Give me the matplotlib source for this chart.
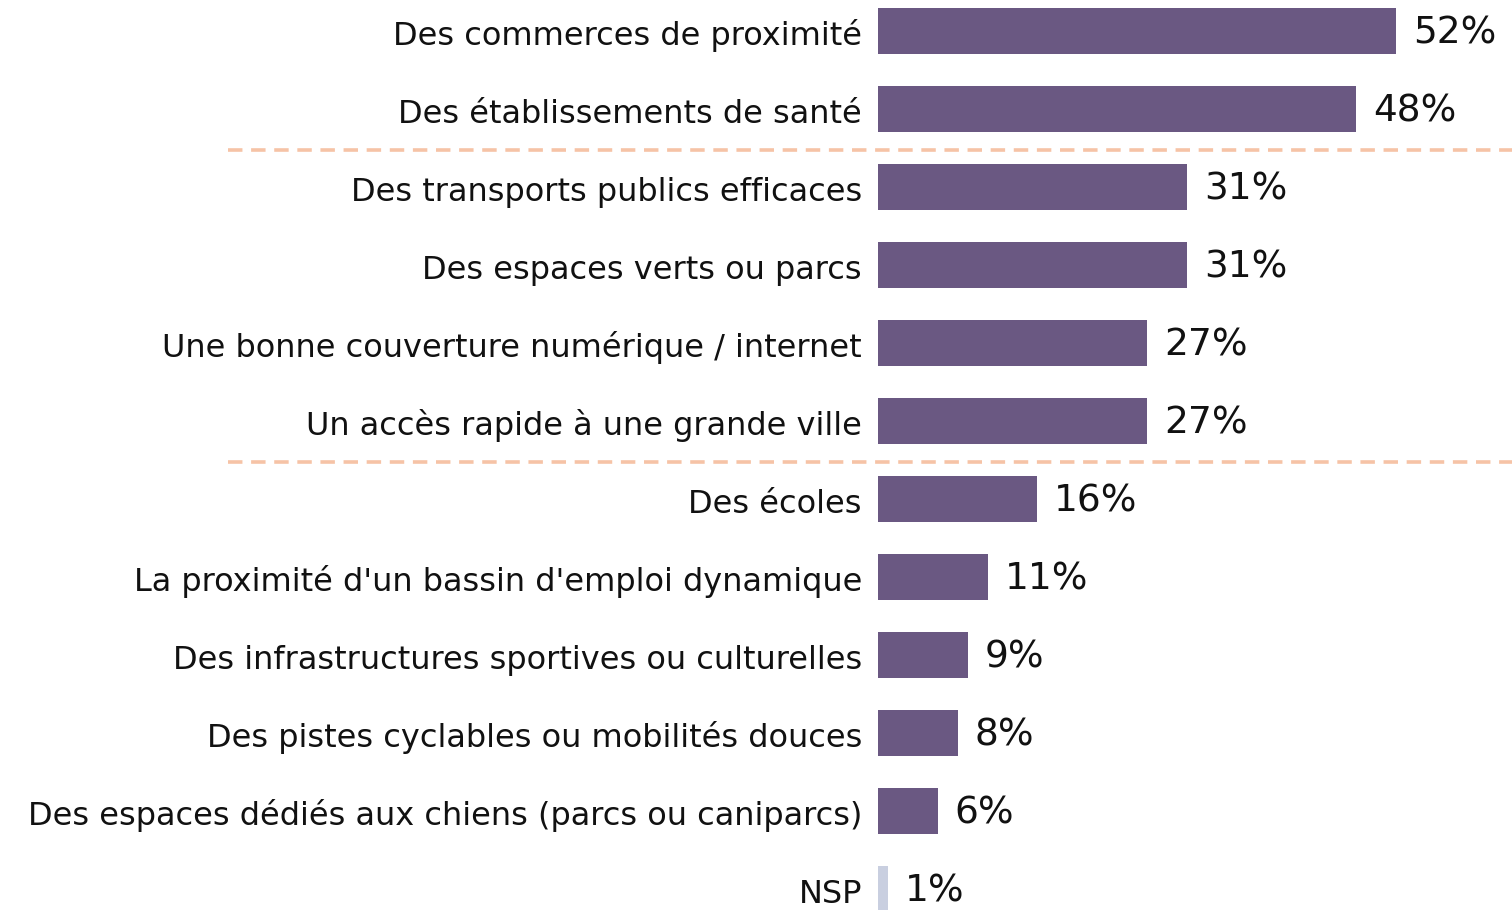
import matplotlib
matplotlib.use("Agg")
import matplotlib.pyplot as plt

categories = [
    "Des commerces de proximité",
    "Des établissements de santé",
    "Des transports publics efficaces",
    "Des espaces verts ou parcs",
    "Une bonne couverture numérique / internet",
    "Un accès rapide à une grande ville",
    "Des écoles",
    "La proximité d'un bassin d'emploi dynamique",
    "Des infrastructures sportives ou culturelles",
    "Des pistes cyclables ou mobilités douces",
    "Des espaces dédiés aux chiens (parcs ou caniparcs)",
    "NSP",
]
values = [52, 48, 31, 31, 27, 27, 16, 11, 9, 8, 6, 1]
separators_after = [1, 5]

W, H = 1512, 910
fig = plt.figure(figsize=(W / 100, H / 100), dpi=100)
ax = fig.add_axes([0, 0, 1, 1])
ax.axis("off")

px_per_unit = 9.96
x0 = 878
row0 = 31
row_step = 78
ax.set_xlim(-x0 / px_per_unit, (W - x0) / px_per_unit)
ax.set_ylim((H - row0) / row_step, -row0 / row_step)

main_color = "#6A5882"
nsp_color = "#C9CFE0"
colors = [nsp_color if c == "NSP" else main_color for c in categories]
ypos = list(range(len(categories)))
ax.barh(ypos, values, height=0.59, color=colors, edgecolor="none")

font = ["DejaVu Sans"]
for y, cat, v in zip(ypos, categories, values):
    ax.text(-16 / px_per_unit, y + 13.7 / row_step, cat, ha="right", va="baseline",
            fontsize=23, family=font, color="#111111")
    ax.text(v + 17 / px_per_unit, y + 12.3 / row_step, f"{v}%", ha="left", va="baseline",
            fontsize=27, family=font, color="#111111")

for s in separators_after:
    yy = s + 0.5 + 2 / row_step
    ax.plot([(228 - x0) / px_per_unit, (W - x0) / px_per_unit], [yy, yy],
            color="#F6C3A6", lw=2.6, dashes=(4, 2.4), solid_capstyle="butt")

fig.savefig("out.png", dpi=100)
